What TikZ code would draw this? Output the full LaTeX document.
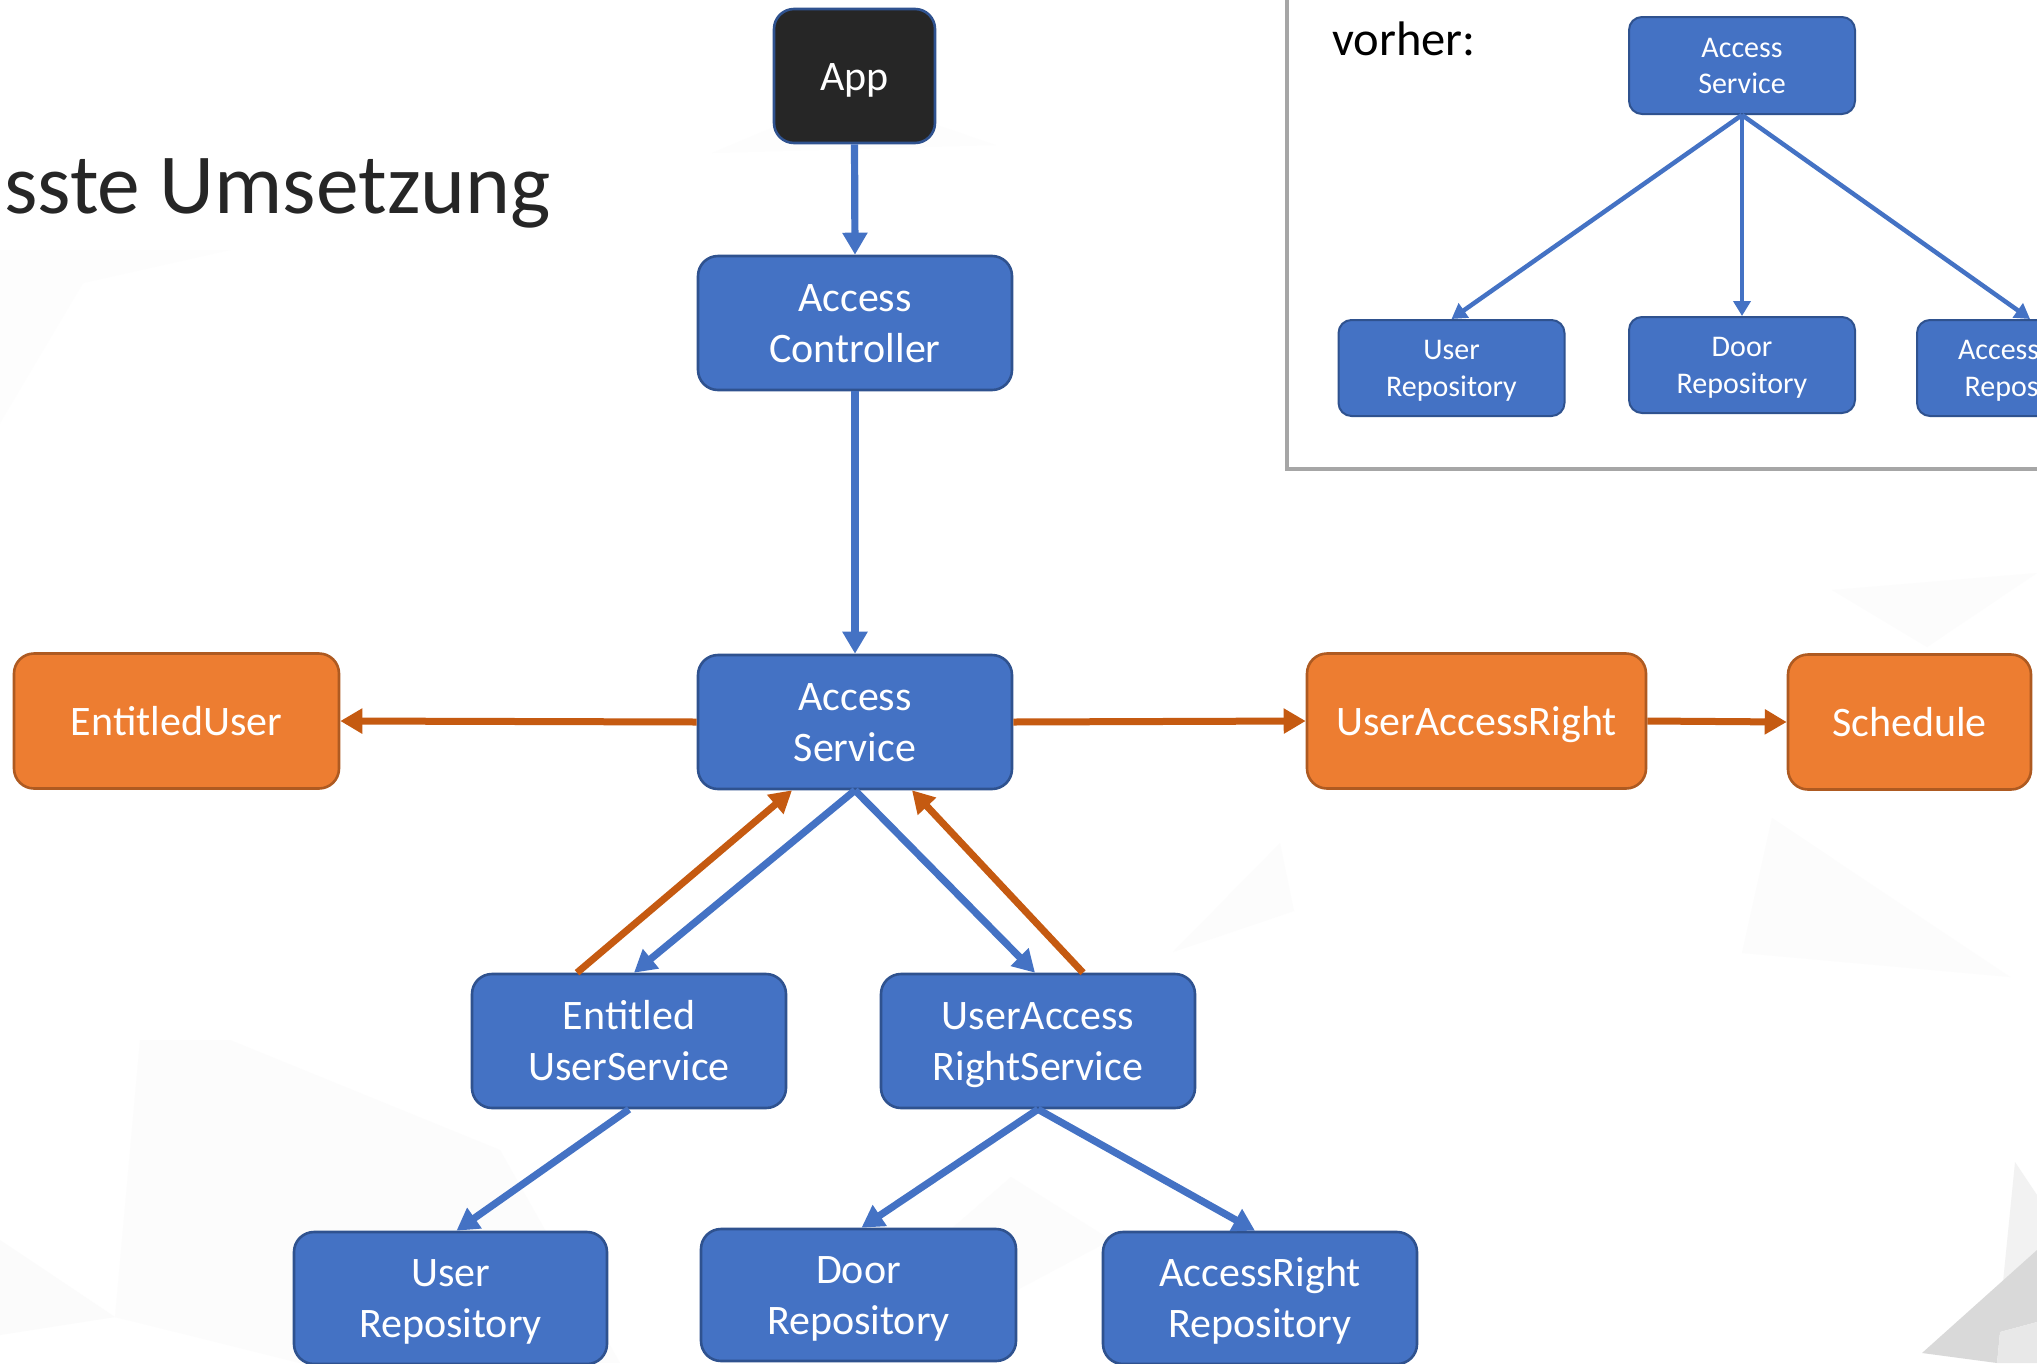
\documentclass[tikz,border=0pt]{standalone}
\usepackage{fontspec}
\setmainfont{Carlito}
\usetikzlibrary{arrows.meta,calc}

\definecolor{boxblue}{HTML}{4472C4}
\definecolor{edgeblue}{HTML}{2F528F}
\definecolor{boxorange}{HTML}{ED7D31}
\definecolor{edgeorange}{HTML}{AE5A21}
\definecolor{linkorange}{HTML}{C55A11}
\definecolor{appfill}{HTML}{262626}
\definecolor{framegray}{HTML}{A6A6A6}

% line strut: gives every text line the same ascent and descent
\newcommand\ls{\rule[-0.26em]{0pt}{1.2em}}

\tikzset{
  basebox/.style={rectangle, rounded corners=20pt, line width=2.6pt,
    text=white, align=center, inner sep=0pt,
    font=\fontsize{42}{51}\selectfont},
  bluebox/.style={basebox, fill=boxblue, draw=edgeblue},
  orangebox/.style={basebox, fill=boxorange, draw=edgeorange},
  appbox/.style={basebox, fill=appfill, draw=edgeblue},
  minibox/.style={rectangle, rounded corners=13pt, line width=2pt,
    fill=boxblue, draw=edgeblue, text=white, align=center, inner sep=0pt,
    minimum width=226pt, minimum height=96pt,
    font=\fontsize{30}{36.5}\selectfont},
  calls/.style={draw=boxblue, line width=7.2pt,
    -{Triangle[width=24pt,length=22pt]}},
  returns/.style={draw=linkorange, line width=7pt,
    -{Triangle[width=24pt,length=22pt]}},
  minicalls/.style={draw=boxblue, line width=4.5pt,
    -{Triangle[width=17pt,length=15pt]}},
  shard/.style={draw=none}
}

\begin{document}
\begin{tikzpicture}[x=1pt,y=-1pt]
  \useasboundingbox (0,0) rectangle (2037,1363);
  \clip (0,0) rectangle (2037,1363);
  \fill[white] (0,0) rectangle (2037,1363);

  % faint low-poly backdrop
  \fill[shard, fill=black!0.8] (0,250) -- (230,250) -- (83,283) -- (0,423) -- cycle;
  \fill[shard, fill=black!0.8] (712,153) -- (850,95) -- (995,145) -- cycle;
  \fill[shard, fill=black!1.2] (140,1040) -- (230,1040) -- (500,1150) -- (620,1363) -- (300,1363) -- (115,1317) -- cycle;
  \fill[shard, fill=black!1.5] (0,1240) -- (115,1317) -- (0,1335) -- cycle;
  \fill[shard, fill=black!1] (1011,1177) -- (1111,1240) -- (880,1363) -- (797,1363) -- cycle;
  \fill[shard, fill=black!1.2] (1280,843) -- (1294,911) -- (1173,952) -- cycle;
  \fill[shard, fill=black!1] (1832,590) -- (2037,573) -- (1927,647) -- cycle;
  \fill[shard, fill=black!1] (1772,818) -- (2010,977) -- (1742,953) -- cycle;
  \fill[shard, fill=black!5] (2015,1162) -- (2037,1195) -- (2037,1262) -- (2003,1282) -- cycle;
  \fill[shard, fill=black!15] (1922,1353) -- (2037,1250) -- (2037,1322) -- (2000,1332) -- (1997,1363) -- cycle;
  \fill[shard, fill=black!9] (2000,1332) -- (2037,1322) -- (2037,1363) -- (1997,1363) -- cycle;

  % heading
  \node[anchor=base west, inner sep=0pt, text=appfill,
        font=\fontsize{85.5}{100}\selectfont] (heading) at (4,213) {sste Umsetzung};

  % earlier design, framed at the top right
  \draw[framegray, line width=3.5pt] (1287,-20) rectangle (2060,469);
  \node[anchor=base west, inner sep=0pt, text=black,
        font=\fontsize{48.5}{58}\selectfont] (before) at (1332,55) {vorher:};
  \node[minibox, minimum height=97pt] (oldservice) at (1742,65.5) {\ls Access\\\ls Service};
  \node[minibox] (olduser) at (1451.5,368) {\ls User\\\ls Repository};
  \node[minibox] (olddoor) at (1742,365) {\ls Door\\\ls Repository};
  \node[minibox] (oldright) at (2030,368) {\ls AccessRight\\\ls Repository};
  \draw[minicalls] (oldservice.south) -- (olduser.north);
  \draw[minicalls] (oldservice.south) -- (olddoor.north);
  \draw[minicalls] (oldservice.south) -- (oldright.north);

  % current design
  \node[appbox, minimum width=161pt, minimum height=134pt] (app) at (854.5,76) {\ls App};
  \node[bluebox, minimum width=314pt, minimum height=134pt] (ctrl) at (855,323) {\ls Access\\\ls Controller};
  \node[bluebox, minimum width=314pt, minimum height=134pt] (svc) at (855,722) {\ls Access\\\ls Service};
  \node[orangebox, minimum width=325pt, minimum height=135pt] (entuser) at (176.5,721) {\ls EntitledUser};
  \node[orangebox, minimum width=339pt, minimum height=135pt] (uright) at (1476.5,721) {\ls UserAccessRight};
  \node[orangebox, minimum width=243pt, minimum height=135pt] (sched) at (1909.5,722) {\ls Schedule};
  \node[bluebox, minimum width=314pt, minimum height=134pt] (entsvc) at (629,1041) {\ls Entitled\\\ls UserService};
  \node[bluebox, minimum width=314pt, minimum height=134pt] (rightsvc) at (1038,1041) {\ls UserAccess\\\ls RightService};
  \node[bluebox, minimum width=313pt, minimum height=132pt] (userrepo) at (450.5,1298) {\ls User\\\ls Repository};
  \node[bluebox, minimum width=315pt, minimum height=132pt] (doorrepo) at (858.5,1295) {\ls Door\\\ls Repository};
  \node[bluebox, minimum width=314pt, minimum height=132pt] (rightrepo) at (1260,1298) {\ls AccessRight\\\ls Repository};

  % calls
  \draw[calls] (app.south) -- (ctrl.north);
  \draw[calls] (ctrl.south) -- (svc.north);
  \draw[calls] (svc.south) -- ($(entsvc.north)+(5,0)$);
  \draw[calls] (svc.south) -- ($(rightsvc.north)+(-3,0)$);
  \draw[calls] (entsvc.south) -- ($(userrepo.north)+(6,0)$);
  \draw[calls] (rightsvc.south) -- ($(doorrepo.north)+(3,0)$);
  \draw[calls] (rightsvc.south) -- ($(rightrepo.north)+(-5,0)$);

  % returned objects
  \draw[returns] ($(entsvc.north)+(-52,0)$) -- ($(svc.south)+(-63,0)$);
  \draw[returns] ($(rightsvc.north)+(45,0)$) -- ($(svc.south)+(57,0)$);
  \draw[returns] (svc.west) -- (entuser.east);
  \draw[returns] (svc.east) -- (uright.west);
  \draw[returns] (uright.east) -- (sched.west);
\end{tikzpicture}
\end{document}
